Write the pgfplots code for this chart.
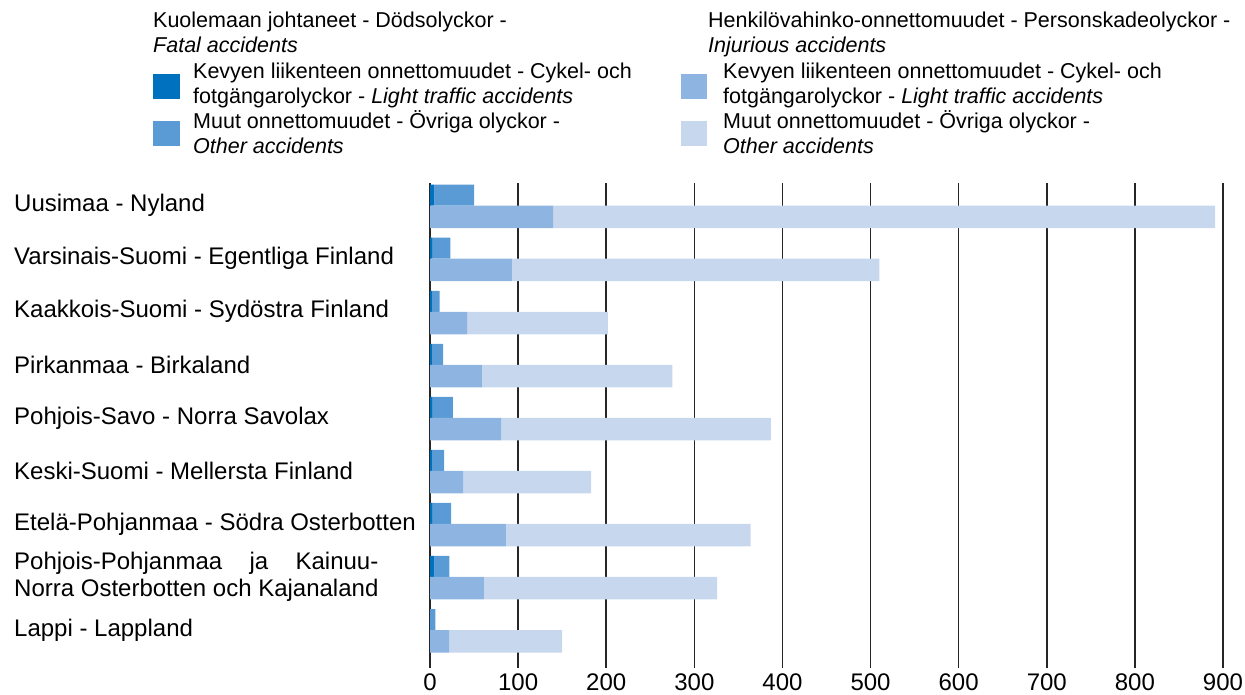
\documentclass[border=0pt]{standalone}
\usepackage{pgfplots}
\pgfplotsset{compat=1.18}
\usepackage{fontspec}
\setmainfont{Liberation Sans}

\definecolor{fatlight}{RGB}{0,113,190}
\definecolor{fatother}{RGB}{90,155,213}
\definecolor{injlight}{RGB}{142,180,225}
\definecolor{injother}{RGB}{199,215,238}

\newcommand{\ppfirst}{\setbox0\hbox{Norra Osterbotten och Kajanaland}\makebox[\wd0][s]{Pohjois-Pohjanmaa ja Kainuu-}}
\newcommand{\legfont}{\fontsize{21.5}{25}\selectfont}

\pgfplotsset{
  basebar/.style={
    at={(430pt,27pt)}, anchor=south west,
    width=793pt, height=485pt, scale only axis,
    xmin=0, xmax=900, ymin=-0.716, ymax=8.428,
    xbar stacked,
    axis line style={draw=none},
    tick style={draw=none},
    major tick length=0pt,
    xtick={0,100,...,900},
    ytick={0,...,8},
    /pgf/number format/assume math mode=true,
  },
}

\begin{document}
\begin{tikzpicture}
\path[use as bounding box] (0,0) rectangle (1245pt,695pt);

% fatal accidents, with the grid and the labels
\begin{axis}[basebar,
    bar width=21pt, bar shift=10.5pt,
    xmajorgrids, grid style={black!85, line width=1.6pt},
    xticklabel style={font=\fontsize{24}{24}\selectfont, yshift=-2pt},
    yticklabel style={font=\fontsize{24}{27}\selectfont, anchor=west,
      xshift=-416pt, inner sep=0pt, align=left},
    yticklabels={
      Lappi - Lappland,
      {\ppfirst\\Norra Osterbotten och Kajanaland},
      Etelä-Pohjanmaa - Södra Osterbotten,
      Keski-Suomi - Mellersta Finland,
      Pohjois-Savo - Norra Savolax,
      Pirkanmaa - Birkaland,
      Kaakkois-Suomi - Sydöstra Finland,
      Varsinais-Suomi - Egentliga Finland,
      Uusimaa - Nyland},
  ]
\addplot[fill=fatlight, draw=none] coordinates {
  (0,0) (5,1) (3,2) (2,3) (3,4) (2,5) (2,6) (3,7) (5,8)};
\addplot[fill=fatother, draw=none] coordinates {
  (6,0) (17,1) (21,2) (14,3) (23,4) (13,5) (9,6) (20,7) (45,8)};
\end{axis}

% injurious accidents
\begin{axis}[basebar,
    bar width=22.5pt, bar shift=-11.25pt,
    xticklabels={}, yticklabels={},
  ]
\addplot[fill=injlight, draw=none] coordinates {
  (22,0) (61,1) (86,2) (38,3) (81,4) (59,5) (42,6) (93,7) (140,8)};
\addplot[fill=injother, draw=none] coordinates {
  (128,0) (265,1) (278,2) (145,3) (306,4) (216,5) (160,6) (417,7) (751,8)};
\end{axis}

% legend
\fill[fatlight] (153pt,596pt) rectangle (180pt,621pt);
\fill[fatother] (153pt,549pt) rectangle (180pt,574pt);
\fill[injlight] (681pt,596pt) rectangle (707pt,621pt);
\fill[injother] (681pt,549pt) rectangle (707pt,574pt);

\begin{scope}[every node/.style={anchor=base west, inner sep=0pt, font=\legfont}]
\node at (153pt,667pt) {Kuolemaan johtaneet - Dödsolyckor -};
\node at (153pt,642pt) {\itshape Fatal accidents};
\node at (193pt,616pt) {Kevyen liikenteen onnettomuudet - Cykel- och};
\node at (193pt,591pt) {fotgängarolyckor - \textit{Light traffic accidents}};
\node at (193pt,566pt) {Muut onnettomuudet - Övriga olyckor -};
\node at (193pt,541pt) {\itshape Other accidents};

\node at (708pt,667pt) {Henkilövahinko-onnettomuudet - Personskadeolyckor -};
\node at (708pt,642pt) {\itshape Injurious accidents};
\node at (723pt,616pt) {Kevyen liikenteen onnettomuudet - Cykel- och};
\node at (723pt,591pt) {fotgängarolyckor - \textit{Light traffic accidents}};
\node at (723pt,566pt) {Muut onnettomuudet - Övriga olyckor -};
\node at (723pt,541pt) {\itshape Other accidents};
\end{scope}
\end{tikzpicture}
\end{document}
